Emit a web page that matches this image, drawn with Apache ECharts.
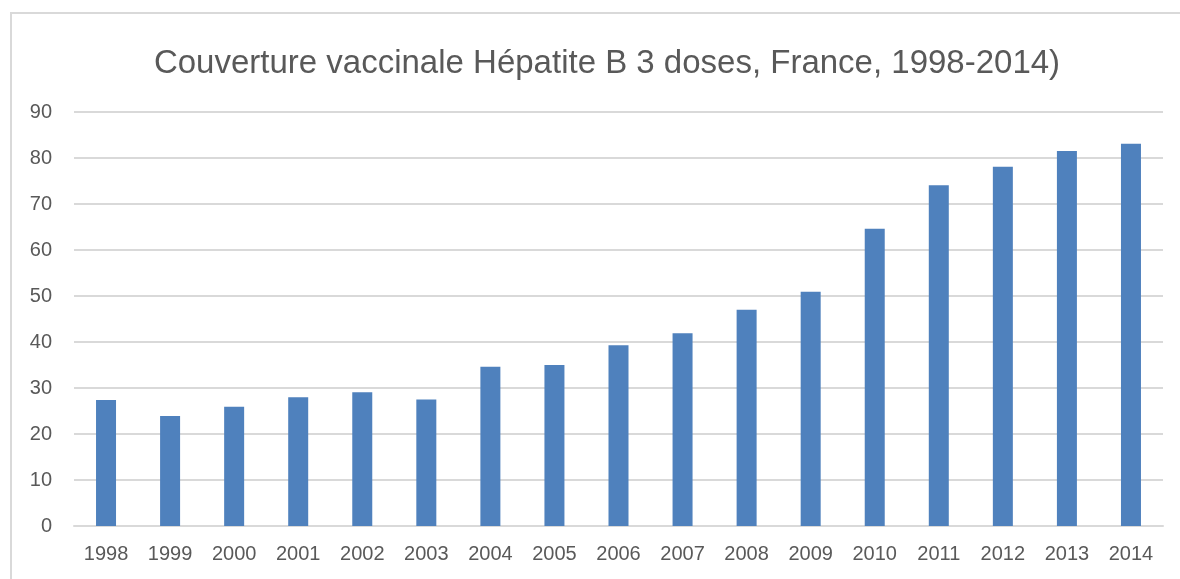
<!DOCTYPE html>
<html>
<head>
<meta charset="utf-8">
<script src="https://cdn.jsdelivr.net/npm/echarts@6/dist/echarts.min.js"></script>
<style>
  html, body { margin: 0; padding: 0; background: #fff; }
  .frame {
    position: absolute; left: 10px; top: 12px;
    width: 1200px; height: 600px;
    border-left: 2px solid #d9d9d9; border-top: 2px solid #d9d9d9;
  }
  #chart { position: absolute; left: 0; top: 0; width: 1180px; height: 579px; }
</style>
</head>
<body>
<div class="frame"></div>
<div id="chart"></div>
<script>
var years = ['1998','1999','2000','2001','2002','2003','2004','2005','2006',
             '2007','2008','2009','2010','2011','2012','2013','2014'];
var coverage = [27.4, 23.9, 25.9, 28.0, 29.1, 27.5, 34.6, 35.0, 39.3,
                41.9, 47.0, 50.9, 64.6, 74.1, 78.1, 81.5, 83.1];
var yTicks = [0, 90, 10]; // min, max, step

var chart = echarts.init(document.getElementById('chart'));
chart.setOption({
  animation: false,
  title: {
    text: 'Couverture vaccinale Hépatite B 3 doses, France, 1998-2014)',
    left: 602, top: 42, textAlign: 'center',
    textStyle: { fontFamily: 'Liberation Sans', fontSize: 33, fontWeight: 'normal', color: '#595959' }
  },
  grid: { left: 74, right: 17, top: 112, bottom: 53, containLabel: false },
  xAxis: {
    type: 'category',
    data: years,
    axisLine: { lineStyle: { color: '#d9d9d9', width: 2 } },
    axisTick: { show: false },
    axisLabel: { color: '#595959', fontSize: 20, fontFamily: 'Liberation Sans', margin: 18 }
  },
  yAxis: {
    type: 'value',
    min: yTicks[0], max: yTicks[1], interval: yTicks[2],
    axisLine: { show: false },
    axisTick: { show: false },
    splitLine: { lineStyle: { color: '#d9d9d9', width: 2 } },
    axisLabel: { color: '#595959', fontSize: 20, fontFamily: 'Liberation Sans', margin: 22 }
  },
  series: [{
    type: 'bar',
    data: coverage,
    barWidth: 20,
    itemStyle: { color: '#4f81bd' }
  }]
});
</script>
</body>
</html>
